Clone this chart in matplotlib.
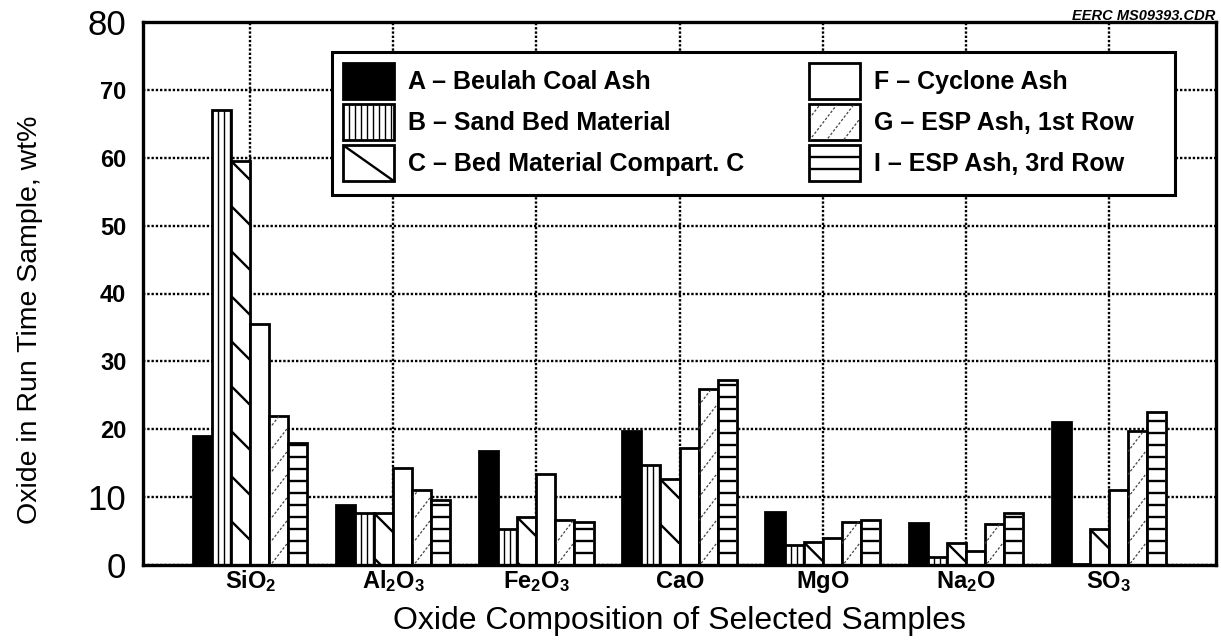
import matplotlib
matplotlib.use('Agg')
import matplotlib.pyplot as plt
from matplotlib.collections import LineCollection
from matplotlib.patches import Rectangle
from matplotlib.transforms import Bbox, IdentityTransform
import numpy as np

plt.rcParams['font.family'] = ['Liberation Sans', 'DejaVu Sans']
plt.rcParams['mathtext.fontset'] = 'custom'
plt.rcParams['mathtext.rm'] = 'Liberation Sans'
plt.rcParams['mathtext.bf'] = 'Liberation Sans:bold'
plt.rcParams['mathtext.it'] = 'Liberation Sans:italic'

# ---------------- data ----------------
oxides = [r'$\mathbf{SiO_2}$', r'$\mathbf{Al_2O_3}$', r'$\mathbf{Fe_2O_3}$',
          r'$\mathbf{CaO}$', r'$\mathbf{MgO}$', r'$\mathbf{Na_2O}$', r'$\mathbf{SO_3}$']
series_labels = ['A – Beulah Coal Ash', 'B – Sand Bed Material',
                 'C – Bed Material Compart. C', 'F – Cyclone Ash',
                 'G – ESP Ash, 1st Row', 'I – ESP Ash, 3rd Row']
A_vals = [19.0, 8.8, 16.8, 19.8, 7.8, 6.2, 21.0]
B_vals = [67.0, 7.7, 5.3, 14.7, 2.9, 1.2, 0.2]
C_vals = [59.5, 7.6, 7.0, 12.6, 3.4, 3.3, 5.3]
F_vals = [35.5, 14.3, 13.4, 17.3, 4.0, 2.1, 11.0]
G_vals = [22.0, 11.0, 6.6, 26.0, 6.4, 6.1, 19.8]
I_vals = [18.0, 9.6, 6.3, 27.2, 6.7, 7.6, 22.6]
yticks = [0, 10, 20, 30, 40, 50, 60, 70, 80]
ytick_labels = ['0', '10', '20', '30', '40', '50', '60', '70', '80']
xlabel = 'Oxide Composition of Selected Samples'
ylabel = 'Oxide in Run Time Sample, wt%'
stamp = 'EERC MS09393.CDR'

series = [A_vals, B_vals, C_vals, F_vals, G_vals, I_vals]
faces = ['black', 'white', 'white', 'white', 'white', 'white']
hatch_kinds = [None, 'vert', 'back', None, 'slash', 'horiz']

W, H = 1221, 643
fig = plt.figure(figsize=(W / 100, H / 100), dpi=100)
ax = fig.add_axes([143 / W, 1 - 565 / H, (1216 - 143) / W, (565 - 22) / H])

x = np.arange(len(oxides))
w = 0.133
bar_groups = []
for i, (vals, lab) in enumerate(zip(series, series_labels)):
    bars = ax.bar(x + (i - 2.5) * w, vals, w, facecolor=faces[i], edgecolor='black',
                  linewidth=2.0, label=lab, zorder=2)
    bar_groups.append(bars)

ax.set_xlim(-0.75, 6.75)
ax.set_ylim(0, 80)
ax.set_xticks(x)
ax.set_xticklabels(oxides, fontsize=17)
ax.set_yticks(yticks)
ax.set_yticklabels(ytick_labels)
ax.tick_params(axis='both', length=0)
ax.tick_params(axis='y', pad=12)
ax.tick_params(axis='x', pad=16.5)
for lbl in ax.get_xticklabels():
    lbl.set_va('baseline')
for lbl in ax.get_yticklabels():
    t = lbl.get_text()
    if t in ('0', '10', '80'):
        lbl.set_fontfamily(['Liberation Sans Narrow', 'Liberation Sans'])
        lbl.set_fontsize(25)
    else:
        lbl.set_fontweight('bold')
        lbl.set_fontsize(17)

ax.set_axisbelow(True)
ax.grid(True, color='black', linestyle=(0, (1, 0.8)), linewidth=1.7)
for sp in ax.spines.values():
    sp.set_linewidth(2.4)

ax.set_xlabel(xlabel, fontsize=23)
ax.xaxis.label.set_va('center')
ax.xaxis.set_label_coords(0.5, -0.104)
ax.set_ylabel(ylabel, fontsize=20.5)
ax.yaxis.label.set_va('center')
ax.yaxis.set_label_coords(-0.105, 0.451)

# legend box (frame drawn separately to match the original's extent)
box = Rectangle((332 / W, 1 - 195 / H), (1175 - 332) / W, (195 - 52) / H,
                transform=fig.transFigure, facecolor='white', edgecolor='black',
                linewidth=2.2, zorder=4)
ax.add_patch(box)
box.set_clip_on(False)

leg = ax.legend(loc='upper left', bbox_to_anchor=(332 / W, 1 - 52 / H),
                bbox_transform=fig.transFigure, ncol=2,
                prop={'size': 18, 'weight': 'bold'}, frameon=False,
                handlelength=2.04, handleheight=1.84,
                handletextpad=0.55, labelspacing=0.2, columnspacing=2.6,
                borderpad=0.45, borderaxespad=0)
leg.set_zorder(5)

fig.text(1215 / W, 1 - 16 / H, stamp, ha='right', va='center', fontsize=10.5,
         fontweight='bold', style='italic')

fig.canvas.draw()


def hatch_segments(kind, x0, y0, x1, y1, legend=False):
    segs = []
    bw, bh = x1 - x0, y1 - y0
    if kind == 'vert':
        s = 6.0
        xx = x0 + s
        while xx < x1 - 1:
            segs.append([(xx, y0), (xx, y1)])
            xx += s
    elif kind == 'horiz':
        s = 12.0
        yy = y0 + s
        while yy < y1 - 2:
            segs.append([(x0, yy), (x1, yy)])
            yy += s
    elif kind == 'back':
        if legend:
            segs.append([(x0, y1), (x1, y0)])
        else:
            s = 45.0
            yy = y1
            while yy > y0 - bw:
                segs.append([(x0, yy), (x0 + bw, yy - bw)])
                yy -= s
    elif kind == 'slash':
        s = 23.0 if not legend else 22.0
        m = 1.3
        yy = y0 - m * bw
        while yy < y1:
            segs.append([(x0, yy), (x1, yy + m * bw)])
            yy += s
    return segs


styles = {
    'vert': dict(colors='black', linewidths=1.0),
    'horiz': dict(colors='black', linewidths=1.7),
    'back': dict(colors='black', linewidths=1.7),
    'slash': dict(colors='#444444', linewidths=0.9, linestyles=[(0, (2.0, 1.5))]),
}


def add_hatch(patch, kind, legend=False):
    bb = patch.get_window_extent()
    x0, y0, x1, y1 = bb.x0, bb.y0, bb.x1, bb.y1
    if y1 - y0 < 2:
        return
    segs = hatch_segments(kind, x0, y0, x1, y1, legend)
    if not segs:
        return
    lc = LineCollection(segs, transform=IdentityTransform(), zorder=10, **styles[kind])
    lc.set_clip_box(Bbox.from_extents(x0 + 0.5, y0 + 0.5, x1 - 0.5, y1 - 0.5))
    lc.set_clip_on(True)
    fig.add_artist(lc)


for bars, kind in zip(bar_groups, hatch_kinds):
    if kind is None:
        continue
    for p in bars.patches:
        add_hatch(p, kind)

for p, kind in zip(leg.get_patches(), hatch_kinds):
    if kind is None:
        continue
    add_hatch(p, kind, legend=True)

fig.savefig('out.png', dpi=100)
